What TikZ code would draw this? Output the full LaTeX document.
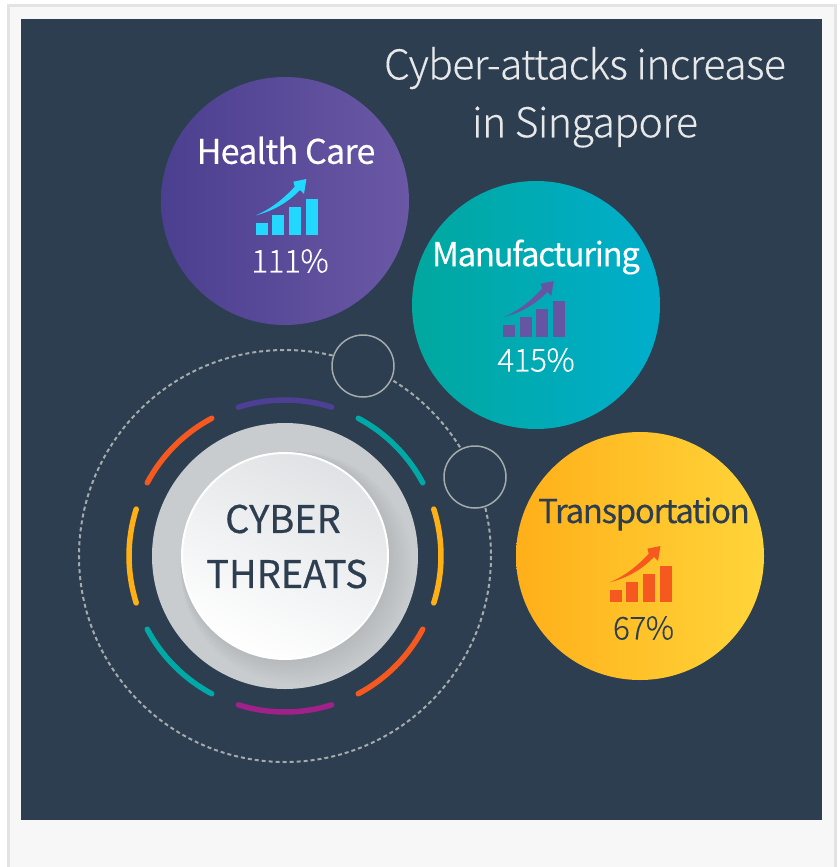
\documentclass[tikz,border=0pt]{standalone}
\usepackage{fontspec}
\usetikzlibrary{calc}
\setmainfont{Noto Sans CJK SC}
\newfontfamily\thinface[LetterSpace=-1.5,FakeBold=0.15]{Noto Sans CJK SC Light}
\newfontfamily\tightface[LetterSpace=-2.2,FakeBold=0.25]{Noto Sans CJK SC}
\newfontfamily\tighterface[LetterSpace=-4,FakeBold=0.25]{Noto Sans CJK SC}
\newfontfamily\coreface[FakeBold=0.5]{Noto Sans CJK SC}
\definecolor{pagebg}{HTML}{F7F7F7}
\definecolor{pageedge}{HTML}{E3E3E3}
\definecolor{panel}{HTML}{2D3E50}
\definecolor{dashgrey}{HTML}{A3ABAB}
\definecolor{ringgrey}{HTML}{C8CCCF}
\definecolor{purpleL}{HTML}{4B3F8F}
\definecolor{purpleR}{HTML}{6A58A5}
\definecolor{tealL}{HTML}{00A89E}
\definecolor{tealR}{HTML}{00AECC}
\definecolor{amberL}{HTML}{FFAF19}
\definecolor{amberR}{HTML}{FFD53A}
\definecolor{cyanic}{HTML}{22D8FF}
\definecolor{violetic}{HTML}{6655A3}
\definecolor{orangeic}{HTML}{F5591F}
\definecolor{arcpurple}{HTML}{4D3F93}
\definecolor{arcteal}{HTML}{00A8A6}
\definecolor{arcamber}{HTML}{FFB014}
\definecolor{arcmagenta}{HTML}{A0218A}
\tikzset{
  bubble/.style={circle,minimum size=248pt,inner sep=0pt,draw=none},
  smallring/.style={circle,minimum size=62pt,inner sep=0pt,fill=panel,draw=dashgrey,line width=1.5pt},
  arcseg/.style={line width=5.5pt,line cap=round},
  heading/.style={text=white,font=\tightface\fontsize{34}{40}\selectfont,inner sep=0pt},
  headingtight/.style={heading,font=\tighterface\fontsize{33}{40}\selectfont},
  pct/.style={font=\thinface\fontsize{31.5}{38}\selectfont,inner sep=0pt},
  titletext/.style={text=white!88!panel,font=\thinface\fontsize{41}{48}\selectfont,inner sep=0pt},
  coretext/.style={text=panel,font=\coreface\fontsize{38}{46}\selectfont,inner sep=0pt}
}
\newcommand{\chartglyph}[3]{%
  \begin{scope}[shift={(#1,#2)},fill=#3]
    \fill (0,0) rectangle (12,-11.7);
    \fill (16.7,0) rectangle (28.7,-19.7);
    \fill (33.3,0) rectangle (45.3,-27.3);
    \fill (50,0) rectangle (62,-35.7);
    \fill (0,-19.3) .. controls (15,-25.5) and (28,-36) .. (39,-48)
       -- (37.7,-53) -- (50.7,-55.7) -- (48.3,-40.7) -- (44.3,-44.7)
       .. controls (31,-31) and (16,-23.5) .. (0,-19.3) -- cycle;
  \end{scope}}
\begin{document}
\begin{tikzpicture}[x=1pt,y=-1pt]
\useasboundingbox (0,0) rectangle (840,867);
\fill[white] (0,0) rectangle (840,867);
\fill[pageedge] (7,4) rectangle (837,867);
\fill[pagebg] (10,7) rectangle (834,867);
\fill[panel] (21,19) rectangle (822,820);

\node[bubble,left color=purpleL,right color=purpleR] (health) at (285,201) {};
\node[bubble,left color=tealL,right color=tealR] (manuf) at (536,305) {};
\node[bubble,left color=amberL,right color=amberR] (transp) at (640,556) {};

\node[titletext] (t1) at (585,68) {Cyber-attacks increase};
\node[titletext] (t2) at (585,127) {in Singapore};

\node[heading] (hh) at (286,150.5) {Health Care};
\node[headingtight] (hm) at (536,257) {Manufacturing};
\node[headingtight,text=panel] (ht) at (644,514) {Transportation};
\chartglyph{255.7}{234.7}{cyanic}
\chartglyph{503}{336.7}{violetic}
\chartglyph{609.7}{601.7}{orangeic}
\node[pct,text=white] (p1) at (290,261) {111\%};
\node[pct,text=white] (p2) at (536,360) {415\%};
\node[pct,text=panel] (p3) at (643.5,628) {67\%};

\coordinate (core) at (285,556);
\draw[dashgrey,line width=2pt,dash pattern=on 4pt off 3pt] (core) circle[radius=206];
\node[smallring] (r1) at (363,366) {};
\node[smallring] (r2) at (475,477) {};

\foreach \a/\b/\c in {72.6/107.4/arcpurple,28/62/arcteal,118/152/orangeic,-17.5/17.5/arcamber,162.5/197.5/arcamber,-62/-28/orangeic,208/242/arcteal,252.6/287.4/arcmagenta}{
  \draw[arcseg,\c] ($(core)+(\a:156pt)$) arc[start angle=\a,end angle=\b,radius=156pt];
}

\fill[ringgrey] (core) circle[radius=133];
\begin{scope}
  \clip (core) circle[radius=133];
  \foreach \k in {0,...,9}{
    \fill[black,opacity=0.009] ($(core)+(\k*1.3,\k*1.3)$) circle[radius=103+1.5*\k];
  }
\end{scope}
\shade[top color=white!85!panel,bottom color=white,shading angle=-25] (core) circle[radius=103];
\draw[white,line width=2pt] (core) circle[radius=103];
\node[coretext] (c1) at (283,519) {CYBER};
\node[coretext] (c2) at (287,574) {THREATS};
\end{tikzpicture}
\end{document}
